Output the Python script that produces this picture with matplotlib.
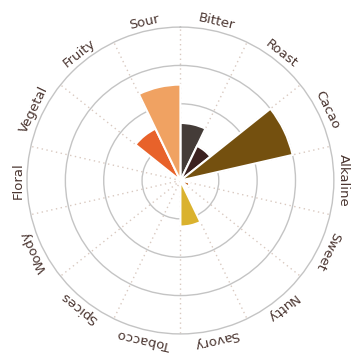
import numpy as np
import matplotlib
matplotlib.use("Agg")
import matplotlib.pyplot as plt

categories = ["Bitter", "Roast", "Cacao", "Alkaline", "Sweet", "Nutty", "Savory",
              "Tobacco", "Spices", "Woody", "Floral", "Vegetal", "Fruity", "Sour"]
values = [1.5, 1.0, 3.0, 0.0, 0.25, 0.0, 1.2, 0.0, 0.0, 0.0, 0.0, 0.0, 1.5, 2.5]
colors = ["#443c38", "#3c2220", "#74500f", "#c0621c", "#c0621c", "#c0621c", "#dab22e",
          "#c0621c", "#c0621c", "#c0621c", "#c0621c", "#c0621c", "#e8622a", "#f0a262"]

n = len(categories)
width = 2 * np.pi / n
theta = np.arange(n) * width + width / 2

fig = plt.figure(figsize=(3.61, 3.63), dpi=100)
ax = fig.add_axes([0.0748, 0.0799, 0.850, 0.8457], projection="polar")
ax.set_theta_zero_location("N")
ax.set_theta_direction(-1)

ax.bar(theta, values, width=width, color=colors, edgecolor="white", linewidth=1.5, zorder=3)

ax.set_ylim(0, 4)
ax.set_yticks([1, 2, 3])
ax.set_yticklabels([])
ax.set_xticks(np.arange(n) * width)
ax.set_xticklabels([])
ax.yaxis.grid(True, color="#c4c4c4", linewidth=1.0, linestyle="-")
ax.xaxis.grid(True, color="#d9c9c0", linewidth=1.0, linestyle=(0, (1, 2.5)))
ax.spines["polar"].set_color("#c4c4c4")
ax.spines["polar"].set_linewidth(1.0)
ax.set_axisbelow(True)

for t, lab in zip(theta, categories):
    deg = np.degrees(t)
    ax.text(t, 4.24, lab, rotation=-deg, rotation_mode="anchor",
            ha="center", va="center", fontsize=9.5, color="#4a3530",
            transform=ax.transData, clip_on=False)

fig.savefig("out.png", dpi=100)
